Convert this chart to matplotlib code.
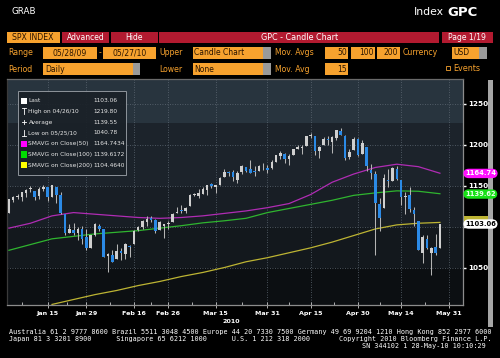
import numpy as np
import matplotlib
matplotlib.use("Agg")
import matplotlib.pyplot as plt
from matplotlib.patches import Rectangle
from matplotlib import font_manager

# trading days shown on the chart (2010)
holidays = ["2010-01-18", "2010-02-15", "2010-04-02"]
first_day, last_day = "2010-01-04", "2010-05-28"

# daily OHLC
opens = [1116.56, 1132.66, 1135.71, 1136.27, 1140.52, 1145.96, 1143.81, 1137.31, 1145.68, 1147.72,
         1136.03, 1147.95, 1138.68, 1115.49, 1092.40, 1095.80, 1091.94, 1096.93, 1087.61,
         1073.89, 1090.05, 1100.67, 1097.25, 1064.12, 1065.51, 1060.06, 1069.68, 1067.10, 1075.95,
         1079.13, 1096.14, 1099.03, 1105.49, 1110.00, 1107.49, 1095.89, 1101.24, 1103.10,
         1105.36, 1117.01, 1119.36, 1119.12, 1125.12, 1138.40, 1137.56, 1140.22, 1143.96, 1151.71,
         1148.53, 1150.83, 1159.94, 1166.13, 1166.68, 1157.25, 1166.47, 1172.70, 1170.03, 1167.58,
         1167.71, 1173.75, 1171.75, 1171.23,
         1178.71, 1186.01, 1188.23, 1181.75, 1187.47, 1194.94, 1195.94, 1198.69, 1210.77, 1210.17,
         1192.06, 1199.04, 1207.16, 1202.52, 1207.87, 1217.07, 1209.92, 1184.59, 1193.30, 1206.77,
         1188.58, 1197.50, 1169.24, 1164.38, 1127.04, 1122.27, 1156.39, 1155.43, 1170.04, 1157.19,
         1136.52, 1138.78, 1119.57, 1107.34, 1067.26, 1084.78, 1067.42, 1075.51, 1074.27]
highs = [1133.87, 1136.63, 1139.19, 1142.46, 1145.39, 1149.74, 1143.81, 1148.40, 1150.41, 1147.77,
         1150.45, 1147.95, 1141.58, 1115.49, 1102.97, 1103.69, 1099.51, 1100.22, 1096.45,
         1089.38, 1104.73, 1102.72, 1097.25, 1067.13, 1071.20, 1079.28, 1073.67, 1080.04, 1077.81,
         1095.67, 1101.03, 1108.24, 1112.42, 1112.29, 1108.58, 1106.42, 1103.50, 1107.24,
         1116.11, 1123.46, 1125.64, 1123.73, 1139.38, 1141.05, 1145.37, 1148.26, 1150.24, 1153.41,
         1150.98, 1160.28, 1169.84, 1167.77, 1169.20, 1167.82, 1174.72, 1173.04, 1180.69, 1173.93,
         1174.85, 1177.83, 1174.56, 1181.43,
         1187.73, 1191.80, 1189.60, 1188.55, 1194.66, 1199.20, 1199.04, 1210.65, 1213.92, 1210.17,
         1197.87, 1208.58, 1210.99, 1210.27, 1217.28, 1219.80, 1211.38, 1195.05, 1209.36, 1207.99,
         1205.13, 1197.50, 1175.95, 1167.58, 1135.13, 1163.85, 1170.48, 1172.87, 1173.57, 1157.19,
         1141.88, 1148.66, 1124.27, 1107.34, 1090.16, 1089.95, 1074.75, 1090.75, 1103.52]
lows = [1116.56, 1129.66, 1133.95, 1131.32, 1136.22, 1142.02, 1131.77, 1133.18, 1143.80, 1131.39,
        1135.77, 1129.25, 1114.84, 1090.18, 1092.40, 1089.86, 1083.11, 1078.46, 1071.59,
        1073.89, 1087.96, 1093.97, 1062.78, 1044.50, 1056.51, 1060.06, 1059.34, 1060.59, 1062.97,
        1079.13, 1094.72, 1097.48, 1100.80, 1105.38, 1092.18, 1095.50, 1086.02, 1097.56,
        1105.36, 1116.51, 1116.58, 1116.66, 1125.12, 1136.77, 1134.90, 1140.09, 1138.99, 1146.97,
        1141.45, 1150.35, 1159.94, 1161.16, 1155.33, 1152.88, 1163.83, 1166.01, 1165.09, 1161.48,
        1167.71, 1168.92, 1165.77, 1170.69,
        1178.71, 1182.77, 1177.25, 1175.12, 1187.15, 1194.71, 1188.82, 1198.69, 1208.50, 1186.77,
        1183.68, 1199.04, 1198.85, 1190.19, 1205.10, 1211.07, 1181.62, 1181.81, 1193.30, 1186.32,
        1188.58, 1168.12, 1158.15, 1065.79, 1094.15, 1122.27, 1147.71, 1155.43, 1156.14, 1126.14,
        1114.96, 1117.20, 1100.66, 1071.58, 1055.90, 1072.70, 1040.78, 1065.59, 1074.27]
closes = [1132.99, 1136.52, 1137.14, 1141.69, 1144.98, 1146.98, 1136.22, 1145.68, 1148.46, 1136.03,
          1150.23, 1138.04, 1116.48, 1091.76, 1096.78, 1092.17, 1097.50, 1084.53, 1073.87,
          1089.19, 1103.32, 1097.28, 1063.11, 1066.19, 1056.74, 1070.52, 1068.13, 1078.47, 1075.51,
          1094.87, 1099.51, 1106.75, 1109.17, 1108.01, 1094.60, 1105.24, 1102.94, 1104.49,
          1115.71, 1118.31, 1118.79, 1122.97, 1138.70, 1138.50, 1140.45, 1145.61, 1150.24, 1149.99,
          1150.51, 1159.46, 1166.21, 1165.83, 1159.90, 1165.81, 1174.17, 1167.72, 1165.73, 1166.59,
          1173.22, 1173.27, 1169.43, 1178.10,
          1187.44, 1189.44, 1182.45, 1186.44, 1194.37, 1196.48, 1197.30, 1210.65, 1211.67, 1192.13,
          1197.52, 1207.17, 1205.94, 1208.67, 1217.28, 1212.05, 1183.71, 1191.36, 1206.78, 1186.69,
          1202.26, 1173.60, 1165.87, 1128.15, 1110.88, 1159.73, 1155.79, 1171.67, 1157.44, 1135.68,
          1136.94, 1120.80, 1115.05, 1071.59, 1087.69, 1073.65, 1074.03, 1067.95, 1103.06]

# moving averages, read every 5th trading day
ma_step = 5
sma50 = [1098, 1104, 1113, 1117, 1115, 1113, 1111, 1110, 1111, 1113, 1116,
         1119, 1123, 1128, 1139, 1154, 1164, 1172, 1176, 1173, 1165]
sma100 = [1071, 1078, 1085, 1088, 1091, 1093, 1095, 1098, 1101, 1104.5, 1107,
          1110, 1117, 1122, 1127, 1132, 1138, 1141, 1143.5, 1143, 1140]
sma200 = [np.nan, np.nan, 1005, 1011, 1017, 1022, 1028, 1033, 1039, 1044, 1050,
          1057, 1062, 1068, 1074, 1081, 1089, 1097, 1102, 1104, 1105]

tick_dates = ["2010-01-15", "2010-01-29", "2010-02-16", "2010-02-26", "2010-03-15",
              "2010-03-31", "2010-04-15", "2010-04-30", "2010-05-14", "2010-05-31"]
tick_labels = ["Jan 15", "Jan 29", "Feb 16", "Feb 26", "Mar 15",
               "Mar 31", "Apr 15", "Apr 30", "May 14", "May 31"]
y_ticks = [1050, 1100, 1150, 1200, 1250]
y_tick_labels = ["1050", "", "1150", "1200", "1250"]  # 1100 sits under the last-price tag

legend_rows = ["Last", "High on 04/26/10", "Average", "Low on 05/25/10",
               "SMAVG on Close(50)", "SMAVG on Close(100)", "SMAVG on Close(200)"]
legend_vals = ["1103.06", "1219.80", "1139.55", "1040.78", "1164.7434", "1139.6172", "1104.4640"]

c_up, c_down, c_wick = "#cfcfcf", "#2b8ae6", "#b4b4b4"
c50, c100, c200 = "#b02cb4", "#2fb52f", "#bdb433"
orange, crimson, dark = "#f7a22e", "#b21a30", "#2a1400"

# narrow face for the legend if it is there
installed = {f.name for f in font_manager.fontManager.ttflist}
if "Liberation Sans Narrow" in installed:
    leg_font, leg_size = "Liberation Sans Narrow", 5.2
else:
    leg_font, leg_size = "DejaVu Sans", 4.2

days = np.arange(first_day, last_day, dtype="datetime64[D]")
days = days[np.is_busday(days, holidays=holidays)]
x = np.arange(len(days))
o, h, l, c = map(np.array, (opens, highs, lows, closes))

fig = plt.figure(figsize=(5, 3.58), dpi=100, facecolor="black")
W, H = 500, 358
ax = fig.add_axes([7 / W, 53 / H, 456 / W, 226 / H])
ax.set_facecolor("#0c0f12")
# darker towards the bottom
for y0, y1, col in [(1226, 1290, "#28343e"), (1150, 1226, "#1c232b"), (1100, 1150, "#181e25"),
                    (1049, 1100, "#13181d"), (990, 1049, "#0c0f12")]:
    ax.axhspan(y0, y1, color=col, lw=0, zorder=0)

ax.set_xlim(-0.44, 105.36)
ax.set_ylim(1004.3, 1279.9)

up = c >= o
ax.vlines(x, l, h, color=c_wick, lw=0.75, zorder=3)
ax.bar(x, np.maximum(np.abs(c - o), 0.8), bottom=np.minimum(o, c), width=0.6,
       color=np.where(up, c_up, c_down), lw=0, zorder=4)

mx = x[::ma_step]
ax.plot(mx, sma200, color=c200, lw=0.9, zorder=2)
ax.plot(mx, sma100, color=c100, lw=0.9, zorder=2)
ax.plot(mx, sma50, color=c50, lw=0.9, zorder=2)

tick_pos = np.array([np.busday_count(days[0], np.datetime64(d), holidays=holidays) for d in tick_dates])
ax.set_xticks(tick_pos)
ax.set_xticklabels(tick_labels, fontsize=4.6, fontweight="bold", color="white")
minor = np.concatenate([[tick_pos[0] - 6], (tick_pos[:-1] + tick_pos[1:]) / 2])
ax.set_xticks(minor, minor=True)
ax.tick_params(axis="x", which="major", direction="inout", length=4, width=0.7, color="#b0b0b0", pad=2.5)
ax.tick_params(axis="x", which="minor", direction="in", length=2, width=0.7, color="#b0b0b0")

ax.yaxis.tick_right()
ax.set_yticks(y_ticks)
ax.set_yticklabels(y_tick_labels, fontsize=5.2, fontweight="bold", color="white")
ax.tick_params(axis="y", direction="out", length=2.5, width=1.0, color="white", pad=1.2)

ax.grid(True, which="major", color="#5f6a75", linestyle=(0, (1, 2)), lw=0.6)
ax.set_axisbelow(True)
for side, col in [("bottom", "#8c8c8c"), ("top", "#6a6a6a"), ("right", "#8c8c8c"), ("left", "#3a3a3a")]:
    ax.spines[side].set_color(col)
    ax.spines[side].set_linewidth(0.9)

# overlay in pixel coordinates for the terminal furniture
ov = fig.add_axes([0, 0, 1, 1])
ov.set_xlim(0, W)
ov.set_ylim(H, 0)
ov.axis("off")


def box(x0, y0, x1, y1, col, **kw):
    ov.add_patch(Rectangle((x0, y0), x1 - x0, y1 - y0, facecolor=col, edgecolor="none", **kw))


def txt(px, py, s, col="white", size=5.5, ha="left", **kw):
    ov.text(px, py, s, color=col, fontsize=size, ha=ha, va="center", **kw)


txt(11, 12, "GRAB", size=6.3)
txt(444, 12, "Index", size=7.8, ha="right")
txt(447, 12, "GPC", size=9.5, fontweight="bold")

# row 1
box(6.7, 31.7, 60, 43.3, orange)
txt(33, 37.5, "SPX INDEX", dark, 5.6, ha="center")
for x0, x1, s in [(61.7, 109.3, "Advanced"), (110.7, 157.7, "Hide"),
                  (159.3, 439.3, "GPC - Candle Chart"), (441.7, 492.7, "Page 1/19")]:
    box(x0, 31.7, x1, 43.3, crimson)
    txt((x0 + x1) / 2, 37.5, s, "white", 5.8 if x1 - x0 > 200 else 5.5, ha="center")

# rows 2 and 3
for py, lab in [(52.7, "Range"), (69, "Period")]:
    txt(8, py, lab, orange, 5.6)
txt(100, 52.7, "-", orange, 5.6, ha="center")
for py, lab in [(52.7, "Upper"), (69, "Lower")]:
    txt(159.3, py, lab, orange, 5.6)
txt(275.3, 52.7, "Mov. Avgs", orange, 5.6)
txt(275.3, 69, "Mov. Avg", orange, 5.6)
txt(402.7, 52.7, "Currency", orange, 5.6)

fields = [(43.3, 96.7, 46.7, 58.7, "05/28/09", "c", False),
          (103.3, 156, 46.7, 58.7, "05/27/10", "c", False),
          (192.7, 270.7, 46.7, 58.7, "Candle Chart", "l", True),
          (325, 348.3, 46.7, 58.7, "50", "r", False),
          (350.7, 375, 46.7, 58.7, "100", "r", False),
          (376.7, 400, 46.7, 58.7, "200", "r", False),
          (451.7, 486.7, 46.7, 58.7, "USD", "l", True),
          (43.3, 140, 63.3, 75, "Daily", "l", True),
          (192.7, 270.7, 63.3, 75, "None", "l", True),
          (325, 348.3, 63.3, 75, "15", "r", False)]
for x0, x1, y0, y1, s, al, grey in fields:
    box(x0, y0, x1, y1, orange)
    if grey:
        box(x1 - 7.5, y0, x1, y1, "#9a9a9a")
    ym = (y0 + y1) / 2
    if al == "c":
        txt((x0 + x1) / 2, ym, s, dark, 5.5, ha="center")
    elif al == "r":
        txt(x1 - 1.5, ym, s, dark, 5.5, ha="right")
    else:
        txt(x0 + 1.5, ym, s, dark, 5.5)
ov.add_patch(Rectangle((445.5, 66), 4, 4, facecolor="none", edgecolor=orange, lw=0.6))
txt(453, 68.5, "Events", orange, 5.8)

# legend box
box(18, 91, 126, 175, "#1a2128", alpha=0.92)
ov.add_patch(Rectangle((18, 91), 108, 84, facecolor="none", edgecolor="#8e949b", lw=0.7))
row_y = 100.7 + 10.75 * np.arange(len(legend_rows))
for i, (lab, val) in enumerate(zip(legend_rows, legend_vals)):
    txt(28.5, row_y[i], lab, "#e6e6e6", leg_size, family=leg_font)
    txt(93.5, row_y[i], val, "#e6e6e6", leg_size, family=leg_font)
sq = ["white", None, None, None, "#ff00ff", "#00dd00", "#ffff00"]
for i, col in enumerate(sq):
    if col:
        box(21, row_y[i] - 3.2, 26.5, row_y[i] + 3.2, col)
yh, ya, yl = row_y[1], row_y[2], row_y[3]
ov.plot([23.7, 23.7], [yh - 3, yh + 3], color="white", lw=0.6)
ov.plot([21.7, 25.7], [yh - 3, yh - 3], color="white", lw=0.6)
ov.plot([21.5, 26], [ya, ya], color="white", lw=0.6)
ov.plot([23.7, 23.7], [ya - 2, ya + 2], color="white", lw=0.6)
ov.plot([23.7, 23.7], [yl - 3, yl + 3], color="white", lw=0.6)
ov.plot([21.7, 25.7], [yl + 3, yl + 3], color="white", lw=0.6)

# value tags on the right axis
y_lo, y_hi = ax.get_ylim()


def val_to_py(v):
    return 305 - (v - y_lo) / (y_hi - y_lo) * 226


# the 200-day tag is almost hidden behind the last-price tag
py200 = val_to_py(float(legend_vals[6])) - 3
ov.add_patch(Rectangle((464, py200 - 3.8), 26, 7.6, facecolor=c200, edgecolor="none"))
tags = [(float(legend_vals[4]), "#ff10ff", "white"),
        (float(legend_vals[5]), "#18e018", "#e8ffe8"), (float(legend_vals[0]), "white", "black")]
for v, fc, tc in tags:
    py = val_to_py(v)
    ov.text(465, py, f"{v:.2f}", fontsize=4.9, color=tc, va="center", ha="left", fontweight="bold",
            bbox=dict(boxstyle="round,pad=0.25,rounding_size=0.8", fc=fc, ec="none"))

# scroll bar
box(488, 80, 500, 327, "black")
box(488, 80, 493, 327, "#a6a6a6")

txt(231, 321.7, "2010", "white", 4.6, ha="center", fontweight="bold")

# footer
mono = "DejaVu Sans Mono"
footer1 = "Australia 61 2 9777 8600 Brazil 5511 3048 4500 Europe 44 20 7330 7500 Germany 49 69 9204 1210 Hong Kong 852 2977 6000"
footer2 = "Japan 81 3 3201 8900      Singapore 65 6212 1000      U.S. 1 212 318 2000       Copyright 2010 Bloomberg Finance L.P."
footer3 = "SN 344102 1 28-May-10 10:10:29"
txt(9, 331.7, footer1, "white", 4.87, family=mono)
txt(9, 338.7, footer2, "white", 4.87, family=mono)
txt(486, 345.7, footer3, "white", 4.87, ha="right", family=mono)

fig.savefig("out.png", dpi=100, facecolor="black")
